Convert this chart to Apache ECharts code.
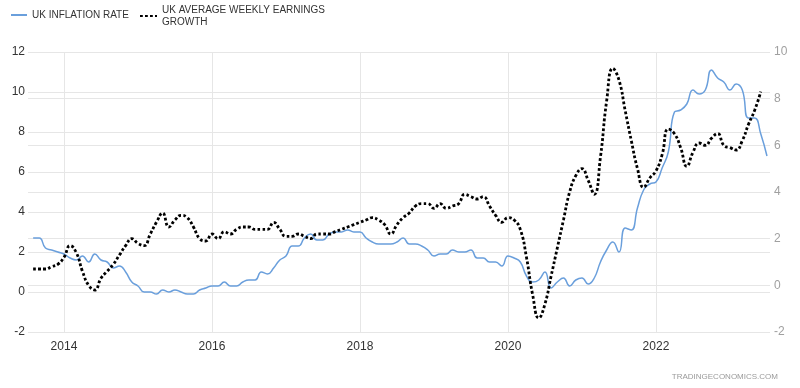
<!DOCTYPE html>
<html>
<head>
<meta charset="utf-8">
<title>UK Inflation Rate vs Average Weekly Earnings Growth</title>
<script src="https://cdn.jsdelivr.net/npm/echarts@6/dist/echarts.min.js"></script>
<style>
  html, body { margin: 0; padding: 0; background: #fff; }
  #chart { width: 800px; height: 388px; }
</style>
</head>
<body>
<div id="chart"></div>
<script>
// both series start Aug 2013, one value per month
const startYear = 2013
const startMonth = 8

// UK inflation rate, Aug 2013 - Jul 2023 (left axis)
const inflation = [
  2.7, 2.7, 2.2, 2.1, 2.0,
  1.9, 1.7, 1.6, 1.8, 1.5, 1.9, 1.6, 1.5, 1.2, 1.3, 1.0, 0.5,
  0.3, 0.0, 0.0, -0.1, 0.1, 0.0, 0.1, 0.0, -0.1, -0.1, 0.1, 0.2,
  0.3, 0.3, 0.5, 0.3, 0.3, 0.5, 0.6, 0.6, 1.0, 0.9, 1.2, 1.6,
  1.8, 2.3, 2.3, 2.7, 2.9, 2.6, 2.6, 2.9, 3.0, 3.0, 3.1, 3.0,
  3.0, 2.7, 2.5, 2.4, 2.4, 2.4, 2.5, 2.7, 2.4, 2.4, 2.3, 2.1,
  1.8, 1.9, 1.9, 2.1, 2.0, 2.0, 2.1, 1.7, 1.7, 1.5, 1.5, 1.3,
  1.8, 1.7, 1.5, 0.8, 0.5, 0.6, 1.0, 0.2, 0.5, 0.7, 0.3, 0.6,
  0.7, 0.4, 0.7, 1.5, 2.1, 2.5, 2.0, 3.2, 3.1, 4.2, 5.1, 5.4,
  5.5, 6.2, 7.0, 9.0, 9.1, 9.4, 10.1, 9.9, 10.1, 11.1, 10.7, 10.5,
  10.1, 10.4, 10.1, 8.7, 8.7, 7.9, 6.8
]

// UK average weekly earnings growth, Aug 2013 - Jun 2023 (right axis)
const earnings = [
  0.7, 0.7, 0.7, 0.8, 0.9,
  1.2, 1.7, 1.4, 0.6, 0.0, -0.2, 0.3, 0.6, 0.9, 1.3, 1.7, 2.0,
  1.8, 1.7, 2.2, 2.7, 3.1, 2.5, 2.8, 3.0, 2.9, 2.5, 2.0, 1.9,
  2.2, 2.0, 2.3, 2.2, 2.4, 2.5, 2.5, 2.4, 2.4, 2.4, 2.7, 2.4,
  2.1, 2.1, 2.2, 2.1, 2.0, 2.2, 2.2, 2.2, 2.3, 2.4, 2.5, 2.6,
  2.7, 2.8, 2.9, 2.8, 2.6, 2.2, 2.6, 2.9, 3.1, 3.4, 3.5, 3.5,
  3.3, 3.5, 3.3, 3.4, 3.5, 3.9, 3.8, 3.7, 3.8, 3.4, 3.0, 2.7,
  2.9, 2.8, 2.4, 1.2, -0.4, -1.4, -0.8, 0.4, 1.6, 2.8, 4.0, 4.7,
  5.0, 4.5, 3.9, 5.5, 7.9, 9.3, 8.8, 7.5, 6.2, 5.0, 4.2, 4.6,
  4.9, 5.6, 6.7, 6.5, 5.9, 5.1, 5.7, 6.1, 6.0, 6.3, 6.5, 6.0,
  5.9, 5.8, 6.2, 6.9, 7.5, 8.3
]

const inflationName = 'UK INFLATION RATE'
const earningsName = 'UK AVERAGE WEEKLY EARNINGS\nGROWTH'

// month index -> decimal year
function monthPos (i) {
  return startYear + (startMonth - 1 + i) / 12
}

const font = '"Liberation Sans", Arial, sans-serif'
const gridColor = '#e6e6e6'
const blue = '#6a9fdc'

const chart = echarts.init(document.getElementById('chart'), null, { renderer: 'canvas' })

chart.setOption({
  animation: false,
  backgroundColor: '#fff',
  grid: { left: 28, right: 30, top: 52, bottom: 56 },
  legend: [
    {
      data: [inflationName],
      left: 10,
      top: 10,
      padding: 0,
      itemWidth: 16,
      itemHeight: 12,
      itemStyle: { opacity: 0 },
      textStyle: { color: '#333', fontSize: 10, fontFamily: font }
    },
    {
      data: [earningsName],
      left: 139,
      top: 4,
      padding: 0,
      itemWidth: 17,
      itemHeight: 12,
      itemStyle: { opacity: 0 },
      textStyle: { color: '#333', fontSize: 10, lineHeight: 12, fontFamily: font }
    }
  ],
  xAxis: {
    type: 'value',
    min: 2013.514,
    max: 2023.541,
    splitNumber: 5,
    axisLine: { show: false },
    axisTick: { show: false },
    axisLabel: {
      color: '#333',
      fontSize: 12,
      fontFamily: font,
      margin: 9,
      showMinLabel: false,
      showMaxLabel: false,
      formatter: function (v) { return String(Math.round(v)) }
    },
    splitLine: {
      show: true,
      showMinLine: false,
      showMaxLine: false,
      lineStyle: { color: gridColor, width: 1 }
    }
  },
  yAxis: [
    {
      type: 'value',
      min: -2,
      max: 12,
      interval: 2,
      position: 'left',
      axisLine: { show: false },
      axisTick: { show: false },
      axisLabel: { color: '#333', fontSize: 12, fontFamily: font, margin: 3 },
      splitLine: { lineStyle: { color: gridColor, width: 1 } }
    },
    {
      type: 'value',
      min: -2,
      max: 10,
      interval: 2,
      position: 'right',
      axisLine: { show: false },
      axisTick: { show: false },
      axisLabel: { color: '#a0a0a0', fontSize: 12, fontFamily: font, margin: 4 },
      splitLine: { lineStyle: { color: gridColor, width: 1 } }
    }
  ],
  series: [
    {
      name: inflationName,
      type: 'line',
      yAxisIndex: 0,
      smooth: true,
      symbol: 'none',
      itemStyle: { color: blue },
      lineStyle: { color: blue, width: 1.5 },
      data: inflation.map(function (v, i) { return [monthPos(i), v] })
    },
    {
      name: earningsName,
      type: 'line',
      yAxisIndex: 1,
      smooth: true,
      symbol: 'none',
      itemStyle: { color: '#000' },
      lineStyle: { color: '#000', width: 2.8, type: [2.8, 2.2] },
      data: earnings.map(function (v, i) { return [monthPos(i), v] })
    }
  ],
  graphic: [
    {
      type: 'text',
      right: 22,
      top: 373,
      style: {
        text: 'TRADINGECONOMICS.COM',
        fill: '#9a9a9a',
        font: '8px ' + font
      }
    }
  ]
})
</script>
</body>
</html>
